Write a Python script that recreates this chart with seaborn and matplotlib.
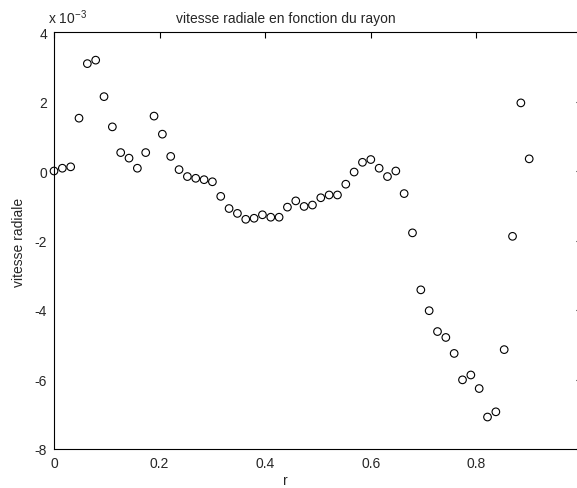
import numpy as np
import pandas as pd
import matplotlib
matplotlib.use("Agg")
import matplotlib.pyplot as plt
import seaborn as sns

# Data (vitesse radiale in units of 1e-3)
r_values = np.linspace(0.0, 0.9, 58)
v_e3 = [0.00, 0.08, 0.12, 1.52, 3.09, 3.19, 2.14, 1.27, 0.53, 0.37,
        0.08, 0.53, 1.58, 1.06, 0.42, 0.04, -0.16, -0.21, -0.25, -0.31,
        -0.73, -1.08, -1.22, -1.39, -1.36, -1.26, -1.33, -1.33, -1.04, -0.86,
        -1.02, -0.98, -0.77, -0.69, -0.69, -0.38, -0.03, 0.25, 0.33, 0.08,
        -0.16, 0.00, -0.65, -1.78, -3.42, -4.02, -4.62, -4.79, -5.25, -6.01,
        -5.87, -6.26, -7.08, -6.93, -5.14, -1.88, 1.96, 0.35]
x_ticks = [0, 0.2, 0.4, 0.6, 0.8]
x_tick_labels = ["0", "0.2", "0.4", "0.6", "0.8"]
y_ticks = [-8, -6, -4, -2, 0, 2, 4]
y_tick_labels = ["-8", "-6", "-4", "-2", "0", "2", "4"]

title = "vitesse radiale en fonction du rayon"
xlabel = "r"
ylabel = "vitesse radiale"
exponent_label = "x 10$^{-3}$"

df = pd.DataFrame({"r": r_values, "v": v_e3})

sns.set_style("white")
plt.rcParams["font.family"] = ["Liberation Sans", "DejaVu Sans"]
plt.rcParams["mathtext.fontset"] = "custom"
plt.rcParams["mathtext.rm"] = "Liberation Sans"

W, H = 577, 489
fig = plt.figure(figsize=(W / 100, H / 100), dpi=100)
left, right, top, bottom = 54, 582, 33, 450
ax = fig.add_axes([left / W, 1 - bottom / H, (right - left) / W, (bottom - top) / H])

sns.scatterplot(data=df, x="r", y="v", ax=ax, marker="o", s=30,
                facecolors="none", edgecolor="black", linewidth=0.8,
                legend=False, clip_on=False, zorder=3)

ax.set_xlim(0, 1)
ax.set_ylim(-8, 4)
ax.set_xticks(x_ticks)
ax.set_xticklabels(x_tick_labels)
ax.set_yticks(y_ticks)
ax.set_yticklabels(y_tick_labels)
ax.tick_params(direction="in", length=4, width=0.8, labelsize=10, color="black",
               top=True, right=True, pad=5)
for s in ax.spines.values():
    s.set_visible(True)
    s.set_color("black")
    s.set_linewidth(0.8)
ax.set_xlabel("")
ax.set_ylabel("")

fig.text(286 / W, 1 - 19 / H, title, ha="center", va="center", fontsize=10)
fig.text(285 / W, 1 - 481 / H, xlabel, ha="center", va="center", fontsize=10)
fig.text(19 / W, 1 - 242 / H, ylabel, ha="center", va="center", rotation=90, fontsize=10)
fig.text(48 / W, 1 - 18 / H, exponent_label, ha="left", va="center", fontsize=10)

fig.savefig("out.png", dpi=100, facecolor="white")
